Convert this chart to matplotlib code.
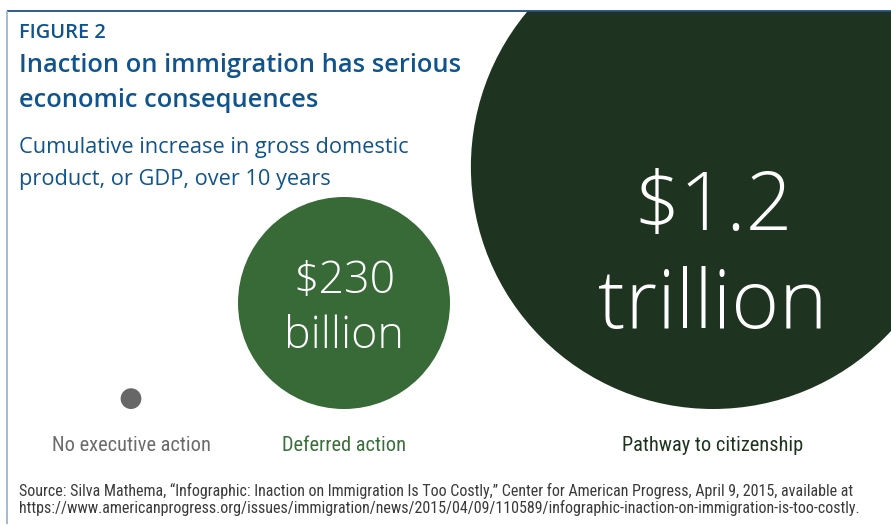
import matplotlib
matplotlib.use("Agg")
import matplotlib.pyplot as plt
from matplotlib import font_manager as fm
from matplotlib.patches import Circle, Rectangle
from matplotlib.font_manager import FontProperties
import numpy as np
import os

# ---------------- data ----------------
categories = ["No executive action", "Deferred action", "Pathway to citizenship"]
values_billion = [2.2, 230, 1200]          # cumulative GDP increase, $ billions
value_line1 = ["", "$230", "$1.2"]
value_line2 = ["", "billion", "trillion"]
fig_label = "FIGURE 2"
title_lines = ["Inaction on immigration has serious", "economic consequences"]
subtitle_lines = ["Cumulative increase in gross domestic", "product, or GDP, over 10 years"]
source_lines = [
    "Source: Silva Mathema, \u201cInfographic: Inaction on Immigration Is Too Costly,\u201d Center for American Progress, April 9, 2015, available at",
    "https://www.americanprogress.org/issues/immigration/news/2015/04/09/110589/infographic-inaction-on-immigration-is-too-costly.",
]

# ---------------- style ----------------
W, H = 891, 525
circle_colors = ["#676767", "#376a37", "#1e3420"]
label_colors = ["#6b6b6b", "#3a6e3a", "#1e3420"]
blue = "#10548e"
centers_x = [131, 344, 713]
baseline_y = 409           # bottoms of circles aligned
scale = 106 / np.sqrt(230)  # px radius per sqrt($bn)

# ---------------- fonts ----------------
names = {f.name for f in fm.fontManager.ttflist}

def pick_family(pref):
    for p in pref:
        if p in names:
            return p
    return "DejaVu Sans"

def light_props():
    fams = ["Open Sans", "Lato", "Roboto", "Noto Sans", "Inter"]
    found = []
    for f in fm.fontManager.ttflist:
        base = os.path.basename(f.fname).lower()
        if f.stretch != "normal":
            continue
        if any(k in base for k in ("italic", "cond", "narrow", "extralight", "thin", "hairline", "semi")):
            continue
        if "cond" in f.name.lower() or "narrow" in f.name.lower():
            continue
        if "light" not in base:
            continue
        for i, fam in enumerate(fams):
            if f.name == fam:
                found.append((i, f.fname))
    if found:
        found.sort()
        return FontProperties(fname=found[0][1])
    return FontProperties(family="DejaVu Sans", weight="light")

def condensed_props():
    pref = ["Liberation Sans Narrow", "Roboto Condensed", "Open Sans Condensed", "Noto Sans"]
    cands = []
    for f in fm.fontManager.ttflist:
        nm = f.name
        path = f.fname.lower()
        if f.style != "normal":
            continue
        is_cond = ("narrow" in nm.lower() or "condensed" in nm.lower() or
                   f.stretch in ("condensed", "semi-condensed") or
                   ("condensed" in path and "extra" not in path and "semi" not in path))
        if not is_cond:
            continue
        w = f.weight if isinstance(f.weight, int) else 400
        if any(k in path for k in ("bold", "light", "thin", "black", "medium", "italic")):
            continue
        if abs(w - 400) > 50:
            continue
        rank = len(pref)
        for i, p in enumerate(pref):
            if nm.startswith(p):
                rank = i
                break
        cands.append((rank, f.fname))
    if cands:
        cands.sort()
        return FontProperties(fname=cands[0][1])
    return FontProperties(family=pick_family(["Liberation Sans", "Open Sans"]))

head_family = pick_family(["Open Sans", "Noto Sans", "Lato"])
fp_head = FontProperties(family=head_family, weight="semibold")
fp_sub = FontProperties(family=head_family, weight="normal")
fp_light = light_props()
fp_cond = condensed_props()

# ---------------- figure ----------------
fig = plt.figure(figsize=(W / 100, H / 100), dpi=100)
fig.patch.set_facecolor("white")
ax = fig.add_axes([0, 0, 1, 1])
ax.set_xlim(0, W)
ax.set_ylim(H, 0)
ax.set_aspect("equal")
ax.axis("off")

# frame lines
frame_top = 11
ax.plot([7, W], [frame_top, frame_top], color="#1f5080", lw=1.3, solid_capstyle="butt", zorder=5)
ax.plot([7, 7], [frame_top, 524], color="#9bb6cf", lw=1.3, solid_capstyle="butt", zorder=5)

clip = Rectangle((7, frame_top), W - 7, H - frame_top, transform=ax.transData, visible=False)
ax.add_patch(clip)

radii = [scale * np.sqrt(v) for v in values_billion]
for i, (cx, r) in enumerate(zip(centers_x, radii)):
    cy = baseline_y - r
    c = Circle((cx, cy), r, facecolor=circle_colors[i], edgecolor="none", zorder=2)
    ax.add_patch(c)
    c.set_clip_path(clip)

fig.canvas.draw()
renderer = fig.canvas.get_renderer()

def fitted(x, y, s, fp, size0, target_w, ha="left", color="black"):
    t = ax.text(x, y, s, fontproperties=fp, fontsize=size0, ha=ha, va="baseline", color=color, zorder=6)
    bb = t.get_window_extent(renderer)
    size = size0 * target_w / bb.width
    t.set_fontsize(size)
    return t, size

def sized(x, y, s, fp, size, ha="left", color="black"):
    return ax.text(x, y, s, fontproperties=fp, fontsize=size, ha=ha, va="baseline", color=color, zorder=6)

# heading texts
fitted(19, 38.5, fig_label, fp_head, 13, 87, color=blue)
_, ts = fitted(19, 72, title_lines[0], fp_head, 19, 441, color=blue)
sized(19, 107, title_lines[1], fp_head, ts, color=blue)
_, ss = fitted(19, 153, subtitle_lines[0], fp_sub, 16, 389, color=blue)
sized(19, 185, subtitle_lines[1], fp_sub, ss, color=blue)

# value labels inside circles
value_base1 = {1: 293, 2: 230}
value_base2 = {1: 348, 2: 328}
value_w2 = {1: 119, 2: 228}
for i in (1, 2):
    _, vs = fitted(centers_x[i], value_base2[i], value_line2[i], fp_light, 40, value_w2[i], ha="center", color="white")
    sized(centers_x[i], value_base1[i], value_line1[i], fp_light, vs, ha="center", color="white")

# category labels
_, cs = fitted(centers_x[2], 451, categories[2], fp_cond, 14, 181, ha="center", color=label_colors[2])
for i in (0, 1):
    sized(centers_x[i], 451, categories[i], fp_cond, cs, ha="center", color=label_colors[i])

# source
_, srs = fitted(19, 496, source_lines[0], fp_cond, 10, 834, color="#3a3a3a")
sized(19, 513, source_lines[1], fp_cond, srs, color="#3a3a3a")

fig.savefig("out.png", dpi=100, facecolor="white")
